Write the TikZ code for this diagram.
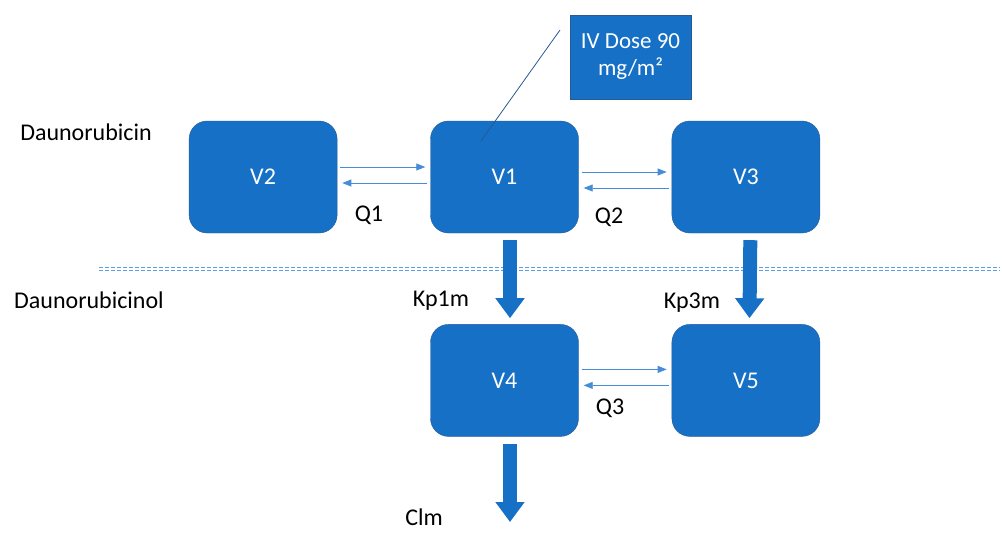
\documentclass[tikz,border=0pt]{standalone}
\usepackage{fontspec}
\setmainfont{Carlito}
\usetikzlibrary{positioning,arrows.meta}
\definecolor{boxblue}{RGB}{21,112,198}
\definecolor{edgeblue}{RGB}{40,90,150}
\definecolor{flowblue}{RGB}{70,140,215}
\definecolor{splitblue}{RGB}{90,160,230}
\begin{document}
\begin{tikzpicture}[
  x = 1pt, y = -1pt,
  comp/.style = {draw = edgeblue, fill = boxblue, rounded corners = 18pt,
                 minimum width = 148pt, minimum height = 112pt,
                 text = white, font = \fontsize{24}{28}\selectfont},
  dosebox/.style = {draw = edgeblue, fill = boxblue, minimum width = 121pt,
                    minimum height = 84pt, align = center, text = white,
                    font = \fontsize{23}{27}\selectfont},
  lbl/.style = {font = \fontsize{24}{28}\selectfont},
  flow/.style = {draw = flowblue, line width = 0.8pt, shorten <= 3pt, shorten >= 5pt,
                 -{Triangle[length = 9pt, width = 7pt]}},
  bulk/.style = {draw = boxblue, line width = 14pt, shorten <= 7pt, shorten >= 6pt,
                 -{Triangle[length = 20pt, width = 28pt]}},
  split/.style = {draw = splitblue, line width = 1pt, double, double distance = 1.5pt,
                  dash pattern = on 4pt off 2pt},
  ]
  \useasboundingbox (0,0) rectangle (1002,533);
  \node[comp] (V1) at (504.5,177) {V1};
  \node[comp, left = 93pt of V1] (V2) {V2};
  \node[comp, right = 93pt of V1] (V3) {V3};
  \node[comp, below = 91pt of V1] (V4) {V4};
  \node[comp, right = 93pt of V4] (V5) {V5};
  \node[dosebox] (dose) at (630.5,57) {IV Dose 90\\mg/m²};
  \coordinate (callout) at (560,30);
  \coordinate (pin) at (481,141);
  \draw[edgeblue, line width = 0.8pt] (callout) -- (pin);
  \coordinate (splitL) at (99,269);
  \coordinate (splitR) at (1000,269);
  \draw[split] (splitL) -- (splitR);
  \coordinate (out) at (510,530);
  \draw[flow] ([yshift = 10pt]V2.east) -- ([yshift = 10pt]V1.west);
  \draw[flow] ([yshift = -6pt]V1.west) -- ([yshift = -6pt]V2.east);
  \draw[flow] ([yshift = 5pt]V1.east) -- ([yshift = 5pt]V3.west);
  \draw[flow] ([yshift = -11pt]V3.west) -- ([yshift = -11pt]V1.east);
  \draw[flow] ([yshift = 11pt]V4.east) -- ([yshift = 11pt]V5.west);
  \draw[flow] ([yshift = -5pt]V5.west) -- ([yshift = -5pt]V4.east);
  \draw[bulk] ([xshift = 5.5pt]V1.south) -- ([xshift = 5.5pt]V4.north);
  \draw[bulk] ([xshift = 4.5pt]V3.south) -- ([xshift = 3.5pt]V5.north);
  \draw[bulk, shorten >= 8pt] ([xshift = 5.5pt]V4.south) -- (out);
  \node[lbl] (parent) at (86,132) {Daunorubicin};
  \node[lbl] (metab) at (89,300) {Daunorubicinol};
  \node[lbl] (Q1) at (369,215) {Q1};
  \node[lbl] (Q2) at (609,217) {Q2};
  \node[lbl] (Q3) at (610,408) {Q3};
  \node[lbl] (Kp1m) at (441,301) {Kp1m};
  \node[lbl] (Kp3m) at (692,303) {Kp3m};
  \node[lbl, anchor = base, inner sep = 0pt] (Clm) at (424,525) {Clm};
\end{tikzpicture}
\end{document}
